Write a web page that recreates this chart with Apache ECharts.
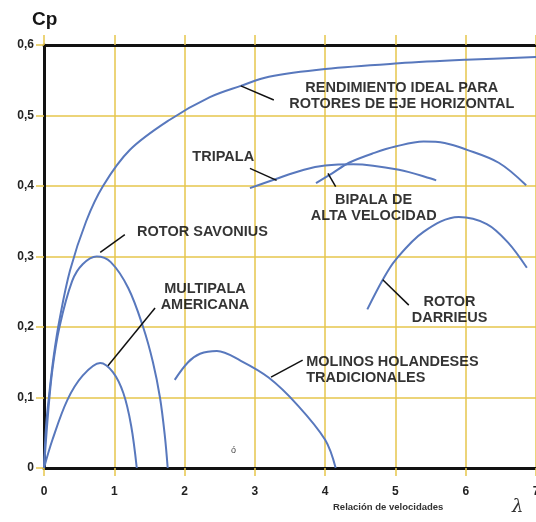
<!DOCTYPE html>
<html><head><meta charset="utf-8">
<script src="https://cdn.jsdelivr.net/npm/echarts@6/dist/echarts.min.js"></script>
<style>html,body{margin:0;padding:0;background:#fff}#c{width:536px;height:522px}</style>
</head><body><div id="c"></div>
<script>
// Data (λ, Cp)
const xTicks = [0,1,2,3,4,5,6,7];
const yTicks = [0,0.1,0.2,0.3,0.4,0.5,0.6];
const ideal = [[0,0],[0.03,0.06],[0.08,0.11],[0.14,0.16],[0.22,0.21],[0.37,0.28],[0.6,0.35],[0.84,0.40],[1.22,0.451],[1.79,0.494],[2.36,0.526],[2.8,0.542],[3.2,0.555],[4.0,0.566],[5.05,0.574],[6.0,0.579],[7.0,0.583]];
const savonius = [[0,0],[0.06,0.08],[0.12,0.14],[0.22,0.2],[0.4,0.265],[0.55,0.289],[0.75,0.30],[0.95,0.292],[1.2,0.255],[1.41,0.2],[1.55,0.15],[1.65,0.1],[1.72,0.045],[1.76,0]];
const multipala = [[0,0],[0.12,0.04],[0.33,0.096],[0.55,0.131],[0.8,0.149],[0.98,0.136],[1.13,0.106],[1.24,0.06],[1.32,0]];
const holandeses = [[1.86,0.125],[2.05,0.15],[2.22,0.162],[2.46,0.166],[2.8,0.152],[3.2,0.128],[3.6,0.09],[4.0,0.04],[4.15,0]];
const tripala = [[2.93,0.397],[3.3,0.41],[3.7,0.423],[4.0,0.429],[4.4,0.431],[5.05,0.423],[5.58,0.408]];
const bipala = [[3.87,0.404],[4.1,0.418],[4.34,0.433],[4.7,0.447],[5.0,0.456],[5.4,0.463],[5.7,0.461],[6.0,0.452],[6.47,0.433],[6.86,0.401]];
const darrieus = [[4.6,0.225],[4.82,0.267],[5.0,0.295],[5.4,0.335],[5.9,0.356],[6.3,0.346],[6.6,0.32],[6.87,0.284]];

// Annotation texts and anchors (data coords)
const labels = [
  {text:'RENDIMIENTO IDEAL PARA\nROTORES DE EJE HORIZONTAL', at:[5.09,0.527], pos:'inside', align:'center'},
  {text:'TRIPALA', at:[2.55,0.441], pos:'inside', align:'center'},
  {text:'BIPALA DE\nALTA VELOCIDAD', at:[4.69,0.3695], pos:'inside', align:'center'},
  {text:'ROTOR SAVONIUS', at:[2.255,0.335], pos:'inside', align:'center'},
  {text:'MULTIPALA\nAMERICANA', at:[2.29,0.242], pos:'inside', align:'center'},
  {text:'ROTOR\nDARRIEUS', at:[5.77,0.224], pos:'inside', align:'center'},
  {text:'MOLINOS HOLANDESES\nTRADICIONALES', at:[3.73,0.139], pos:'right', align:'left'}
];
const leaders = [
  [[2.8,0.542],[3.27,0.522]],
  [[2.93,0.425],[3.31,0.408]],
  [[4.04,0.418],[4.15,0.399]],
  [[0.8,0.306],[1.15,0.331]],
  [[0.91,0.145],[1.58,0.227]],
  [[4.82,0.267],[5.19,0.231]],
  [[3.23,0.129],[3.68,0.153]]
];

const curveColor = '#5878bd';
const gridColor = '#e6c64c';
const font = "'Liberation Sans', Arial, sans-serif";

const chart = echarts.init(document.getElementById('c'));
const series = [];
[ideal, savonius, multipala, holandeses, tripala, bipala, darrieus].forEach(d => {
  series.push({type:'line', data:d, smooth:0.35, showSymbol:false, symbol:'none',
    lineStyle:{color:curveColor, width:2}, silent:true, z:3});
});
leaders.forEach(d => {
  series.push({type:'line', data:d, showSymbol:false, symbol:'none',
    lineStyle:{color:'#111', width:1.5}, silent:true, z:4});
});
labels.forEach(l => {
  series.push({type:'scatter', data:[l.at], symbolSize:0, silent:true, z:5,
    label:{show:true, position:l.pos, distance:0, formatter:l.text, align:l.align,
      color:'#000', fontFamily:font, fontWeight:'bold', fontSize:14.5, lineHeight:16}});
});

chart.setOption({
  animation:false,
  grid:{left:44, right:0, top:45, bottom:54, containLabel:false, outerBoundsMode:'none'},
  xAxis:[{
    type:'value', min:0, max:7, interval:1,
    axisLine:{show:true, lineStyle:{color:'#111', width:3}},
    axisTick:{show:true, length:8, lineStyle:{color:gridColor, width:1.5}},
    axisLabel:{color:'#222', fontFamily:font, fontWeight:'bold', fontSize:12, margin:18,
      formatter:v => xTicks.indexOf(v) >= 0 ? String(v) : ''},
    splitLine:{show:true, lineStyle:{color:gridColor, width:1.5}}
  },{
    type:'value', position:'top', min:0, max:7, interval:1,
    axisLine:{show:true, lineStyle:{color:'#111', width:3}},
    axisTick:{show:true, length:10, lineStyle:{color:gridColor, width:1.5}},
    axisLabel:{show:false}, splitLine:{show:false}
  }],
  yAxis:{
    type:'value', min:0, max:0.6, interval:0.1,
    axisLine:{show:true, lineStyle:{color:'#111', width:3}},
    axisTick:{show:true, length:8, lineStyle:{color:gridColor, width:1.5}},
    axisLabel:{color:'#222', fontFamily:font, fontWeight:'bold', fontSize:12, margin:10,
      formatter:v => {const t = yTicks.find(y => Math.abs(y - v) < 1e-9); return t === undefined ? '' : (t === 0 ? '0' : t.toFixed(1).replace('.', ','));}},
    splitLine:{show:true, lineStyle:{color:gridColor, width:1.5}}
  },
  series: series,
  graphic:[
    {type:'text', left:32, top:10, style:{text:'Cp', font:"bold 19px 'Liberation Sans', Arial, sans-serif", fill:'#151515'}},
    {type:'text', left:333, top:502, style:{text:'Relación de velocidades', font:"bold 9.5px 'Liberation Sans', Arial, sans-serif", fill:'#333'}},
    {type:'text', left:512, top:498, style:{text:'λ', font:"italic 18px 'DejaVu Serif', serif", fill:'#333'}},
    {type:'text', left:231, top:446, style:{text:'ó', font:"9px 'Liberation Sans', Arial, sans-serif", fill:'#444'}}
  ]
});
</script></body></html>
